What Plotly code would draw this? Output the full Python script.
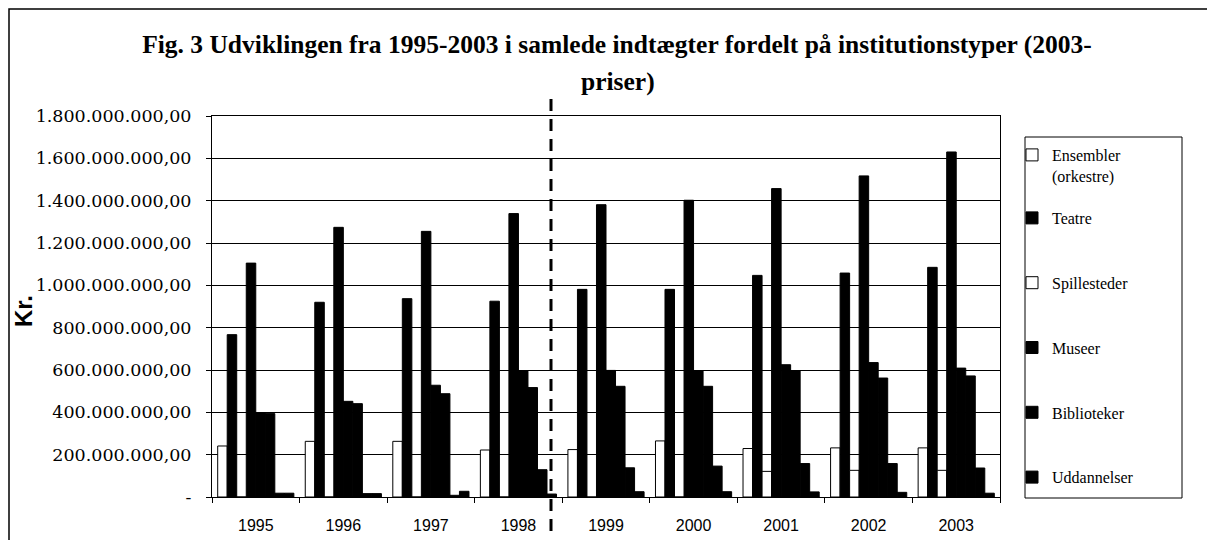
import plotly.graph_objects as go

# ---- data (mio. kr., 2003-priser) ----
years = ["1995", "1996", "1997", "1998", "1999", "2000", "2001", "2002", "2003"]
ensembler = [241, 263, 263, 222, 224, 265, 229, 232, 232]
teatre = [767, 920, 937, 925, 981, 981, 1047, 1058, 1085]
spillesteder = [0, 0, 0, 0, 0, 0, 121, 126, 126]
museer = [1105, 1274, 1255, 1339, 1381, 1402, 1457, 1517, 1630]
biblioteker = [399, 452, 528, 595, 598, 595, 625, 635, 609]
uddannelser = [394, 441, 488, 517, 523, 523, 595, 562, 572]
serie7 = [18, 16, 8, 129, 138, 146, 158, 158, 137]
serie8 = [18, 16, 27, 14, 25, 25, 24, 22, 18]

tick_vals = [0, 200, 400, 600, 800, 1000, 1200, 1400, 1600, 1800]
tick_text = ["-", "200.000.000,00", "400.000.000,00", "600.000.000,00",
             "800.000.000,00", "1.000.000.000,00", "1.200.000.000,00",
             "1.400.000.000,00", "1.600.000.000,00", "1.800.000.000,00"]

series = [
    ("Ensembler<br>(orkestre)", ensembler, "white", "legend", True),
    ("Teatre", teatre, "black", "legend2", True),
    ("Spillesteder", spillesteder, "white", "legend2", True),
    ("Museer", museer, "black", "legend2", True),
    ("Biblioteker", biblioteker, "black", "legend2", True),
    ("Uddannelser", uddannelser, "black", "legend2", True),
    ("Serie 7", serie7, "black", "legend2", False),
    ("Serie 8", serie8, "black", "legend2", False),
]

# ---- layout geometry (screen pixels); the page body adds an 8 px offset ----
OFF = 8
W, H = 1215 - OFF, 540 - OFF
L, R, T, B = 212, 1000, 116, 497


def px2x(px):
    return (px - L) / (R - L)


def py2y(py):
    return (B - py) / (B - T)


fig = go.Figure()
for i, (name, vals, color, leg, show) in enumerate(series):
    fig.add_trace(go.Bar(
        x=years, y=[v * 1e6 for v in vals], name=name,
        marker=dict(color=color, line=dict(color="black", width=1)),
        legend=leg, legendgroup="g%d" % i, showlegend=show,
    ))

serif = "Liberation Serif"
fig.update_layout(
    width=W, height=H,
    margin=dict(l=L - OFF, r=W - (R - OFF), t=T - OFF, b=H - (B - OFF), pad=0, autoexpand=False),
    paper_bgcolor="white", plot_bgcolor="white",
    barmode="group", bargap=0.13, bargroupgap=0,
    title=dict(text="Fig. 3 Udviklingen fra 1995-2003 i samlede indtægter fordelt på institutionstyper (2003-",
               x=(617 - OFF) / W, xanchor="center", xref="container",
               y=1 - (44 - OFF) / H, yanchor="middle", yref="container",
               font=dict(family=serif, size=25.5, color="black", weight="bold")),
    font=dict(family=serif, color="black"),
    xaxis=dict(type="category", showline=True, linecolor="black", linewidth=1, mirror=True,
               ticks="outside", tickson="boundaries", ticklen=5, tickcolor="black",
               showgrid=False, ticklabelstandoff=14, automargin=False,
               tickfont=dict(family="Liberation Sans", size=16, color="black")),
    yaxis=dict(range=[0, 1800e6], tickvals=[v * 1e6 for v in tick_vals], ticktext=tick_text,
               showline=True, linecolor="black", linewidth=1, mirror=True,
               ticks="outside", ticklen=5, tickcolor="black",
               showgrid=True, gridcolor="black", gridwidth=1, zeroline=False,
               ticklabelstandoff=11, automargin=False,
               tickfont=dict(family="DejaVu Serif", size=17.5, color="black")),
    legend=dict(x=px2x(1012), xanchor="left", y=py2y(138), yanchor="top",
                bgcolor="rgba(0,0,0,0)", borderwidth=0, valign="top",
                font=dict(family=serif, size=16, color="black")),
    legend2=dict(x=px2x(1012), xanchor="left", y=py2y(201), yanchor="top",
                 bgcolor="rgba(0,0,0,0)", borderwidth=0, traceorder="grouped",
                 tracegroupgap=41,
                 font=dict(family=serif, size=16, color="black")),
    showlegend=True,
)

fig.add_annotation(text="priser)", xref="paper", yref="paper", x=px2x(618), y=py2y(81),
                   showarrow=False, xanchor="center", yanchor="middle",
                   font=dict(family=serif, size=25.5, color="black", weight="bold"))
fig.add_annotation(text="Kr.", xref="paper", yref="paper", x=px2x(23), y=py2y(311),
                   showarrow=False, textangle=-90, xanchor="center", yanchor="middle",
                   font=dict(family="Liberation Sans", size=24, color="black", weight="bold"))

# legend box, outer frame and dashed divider
fig.add_shape(type="rect", xref="paper", yref="paper",
              x0=px2x(1025), x1=px2x(1182), y0=py2y(498), y1=py2y(137),
              line=dict(color="black", width=1), fillcolor="rgba(0,0,0,0)")
fig.add_shape(type="rect", xref="paper", yref="paper",
              x0=px2x(9), x1=px2x(1211), y0=py2y(580), y1=py2y(9),
              line=dict(color="black", width=1.5), fillcolor="rgba(0,0,0,0)")
fig.add_shape(type="line", xref="paper", yref="paper",
              x0=px2x(551), x1=px2x(551), y0=py2y(531), y1=py2y(92),
              line=dict(color="black", width=3, dash="12px,8px"))

fig.write_html("out.html")
